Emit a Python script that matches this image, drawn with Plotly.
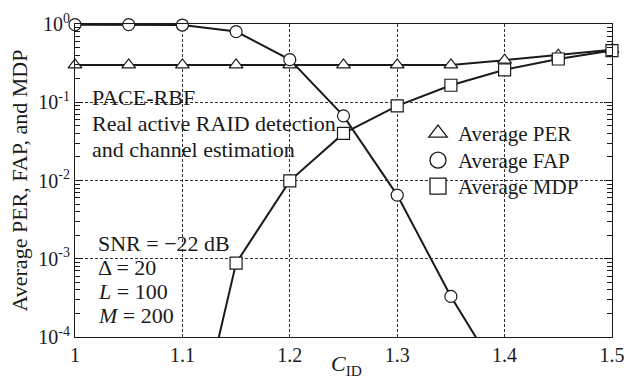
import plotly.graph_objects as go

# Identification-code coefficient sweep
c_id = [1.0, 1.05, 1.1, 1.15, 1.2, 1.25, 1.3, 1.35, 1.4, 1.45, 1.5]

# Average packet error rate
per = [0.30, 0.30, 0.30, 0.30, 0.30, 0.30, 0.30, 0.30, 0.345, 0.40, 0.47]
# Average false-alarm probability
fap = [0.98, 0.98, 0.97, 0.80, 0.35, 0.067, 0.0065, 3.3e-4, 2.5e-5, None, None]
# Average missed-detection probability
mdp = [None, None, 1.0e-6, 8.8e-4, 0.0099, 0.040, 0.090, 0.165, 0.26, 0.357, 0.457]

series = [
    ("Average PER", per, "triangle-up"),
    ("Average FAP", fap, "circle"),
    ("Average MDP", mdp, "square"),
]

y_min_exp, y_max_exp = -4, 0
y_tick_vals = [1e-4, 1e-3, 1e-2, 1e-1, 1e0]
y_tick_text = ["10<sup>-4</sup>", "10<sup>-3</sup>", "10<sup>-2</sup>",
               "10<sup>-1</sup>", "10<sup>0</sup>"]
x_tick_vals = [1.0, 1.1, 1.2, 1.3, 1.4, 1.5]
x_tick_text = ["1", "1.1", "1.2", "1.3", "1.4", "1.5"]

# minor log ticks: 2..9 within each decade
y_minor_vals = [k * 10.0 ** e for e in range(y_min_exp, y_max_exp) for k in range(2, 10)]

FONT = "Liberation Serif, Times New Roman, serif"
INK = "#1a1a1a"

# plotting-area geometry in pixels (used to place free text)
L, R, T, B = 75, 12, 24, 47
W, H = 624, 384
PW, PH = W - L - R, H - T - B


def px_x(x):
    return (x - L) / PW


def px_y(y):
    return 1 - (y - T) / PH


fig = go.Figure()

for name, vals, sym in series:
    # connecting line (clipped to the plotting area)
    fig.add_trace(go.Scatter(
        x=c_id, y=vals, mode="lines", showlegend=False,
        line=dict(color=INK, width=2), connectgaps=False,
    ))
    # open markers for the points that fall inside the axis range
    xs = [x for x, v in zip(c_id, vals) if v is not None and v >= 10 ** y_min_exp]
    ys = [v for v in vals if v is not None and v >= 10 ** y_min_exp]
    fig.add_trace(go.Scatter(
        x=xs, y=ys, mode="markers", showlegend=False, cliponaxis=False,
        marker=dict(symbol=sym, size=12, color="white",
                    line=dict(color=INK, width=1.2)),
    ))

# legend entries (symbol only), one legend box per row for tight spacing
legend_ids = ["legend", "legend2", "legend3"]
legend_rows = [130, 157, 183]
for (name, vals, sym), lid in zip(series, legend_ids):
    fig.add_trace(go.Scatter(
        x=[None], y=[None], mode="markers", name=name, legend=lid,
        marker=dict(symbol=sym, size=19, color="white",
                    line=dict(color=INK, width=1.3)),
    ))

legend_layout = {}
for lid, row in zip(legend_ids, legend_rows):
    legend_layout[lid] = dict(
        x=px_x(418), y=px_y(row - 17), xanchor="left", yanchor="top",
        bgcolor="rgba(0,0,0,0)", font=dict(family=FONT, size=21, color=INK),
        itemsizing="trace",
    )

upper_notes = [
    (97, "PACE-RBF"),
    (123, "Real active RAID detection"),
    (149, "and channel estimation"),
]
lower_notes = [
    (243, "SNR = \u221222 dB"),
    (267, "\u0394 = 20"),
    (291, "<i>L</i> = 100"),
    (315, "<i>M</i> = 200"),
]
for xpix, notes in ((90, upper_notes), (96, lower_notes)):
    for ypix, txt in notes:
        fig.add_annotation(
            xref="paper", yref="paper", x=px_x(xpix), y=px_y(ypix),
            text=txt, showarrow=False, xanchor="left", yanchor="middle",
            font=dict(family=FONT, size=22, color=INK),
        )

# x-axis title placed just under the tick labels
fig.add_annotation(
    xref="paper", yref="paper", x=px_x(346), y=px_y(349),
    text="<i>C</i><sub>ID</sub>", showarrow=False,
    xanchor="center", yanchor="top",
    font=dict(family=FONT, size=22, color=INK),
)

fig.update_layout(
    width=W, height=H,
    margin=dict(l=L, r=R, t=T, b=B, autoexpand=False),
    paper_bgcolor="white", plot_bgcolor="white",
    font=dict(family=FONT, size=20, color=INK),
    xaxis=dict(
        range=[1.0, 1.5], tickvals=x_tick_vals, ticktext=x_tick_text,
        showline=True, linecolor=INK, linewidth=1.2, mirror=True,
        showgrid=True, gridcolor="#333333", griddash="3px,2px", gridwidth=1,
        ticks="", zeroline=False, tickfont=dict(size=20), automargin=False,
        ticklabeloverflow="allow",
    ),
    yaxis=dict(
        type="log", range=[y_min_exp, y_max_exp],
        tickvals=y_tick_vals, ticktext=y_tick_text,
        showline=True, linecolor=INK, linewidth=1.2, mirror="ticks",
        showgrid=True, gridcolor="#333333", griddash="3px,2px", gridwidth=1,
        ticks="inside", ticklen=8, tickcolor=INK, tickfont=dict(size=20),
        minor=dict(tickmode="array", tickvals=y_minor_vals, ticks="inside",
                   ticklen=5, tickcolor=INK, showgrid=False),
        zeroline=False, automargin=False, ticklabeloverflow="allow",
        title=dict(text="Average PER, FAP, and MDP", font=dict(size=22), standoff=4),
    ),
    **legend_layout,
)

fig.write_html("out.html")
